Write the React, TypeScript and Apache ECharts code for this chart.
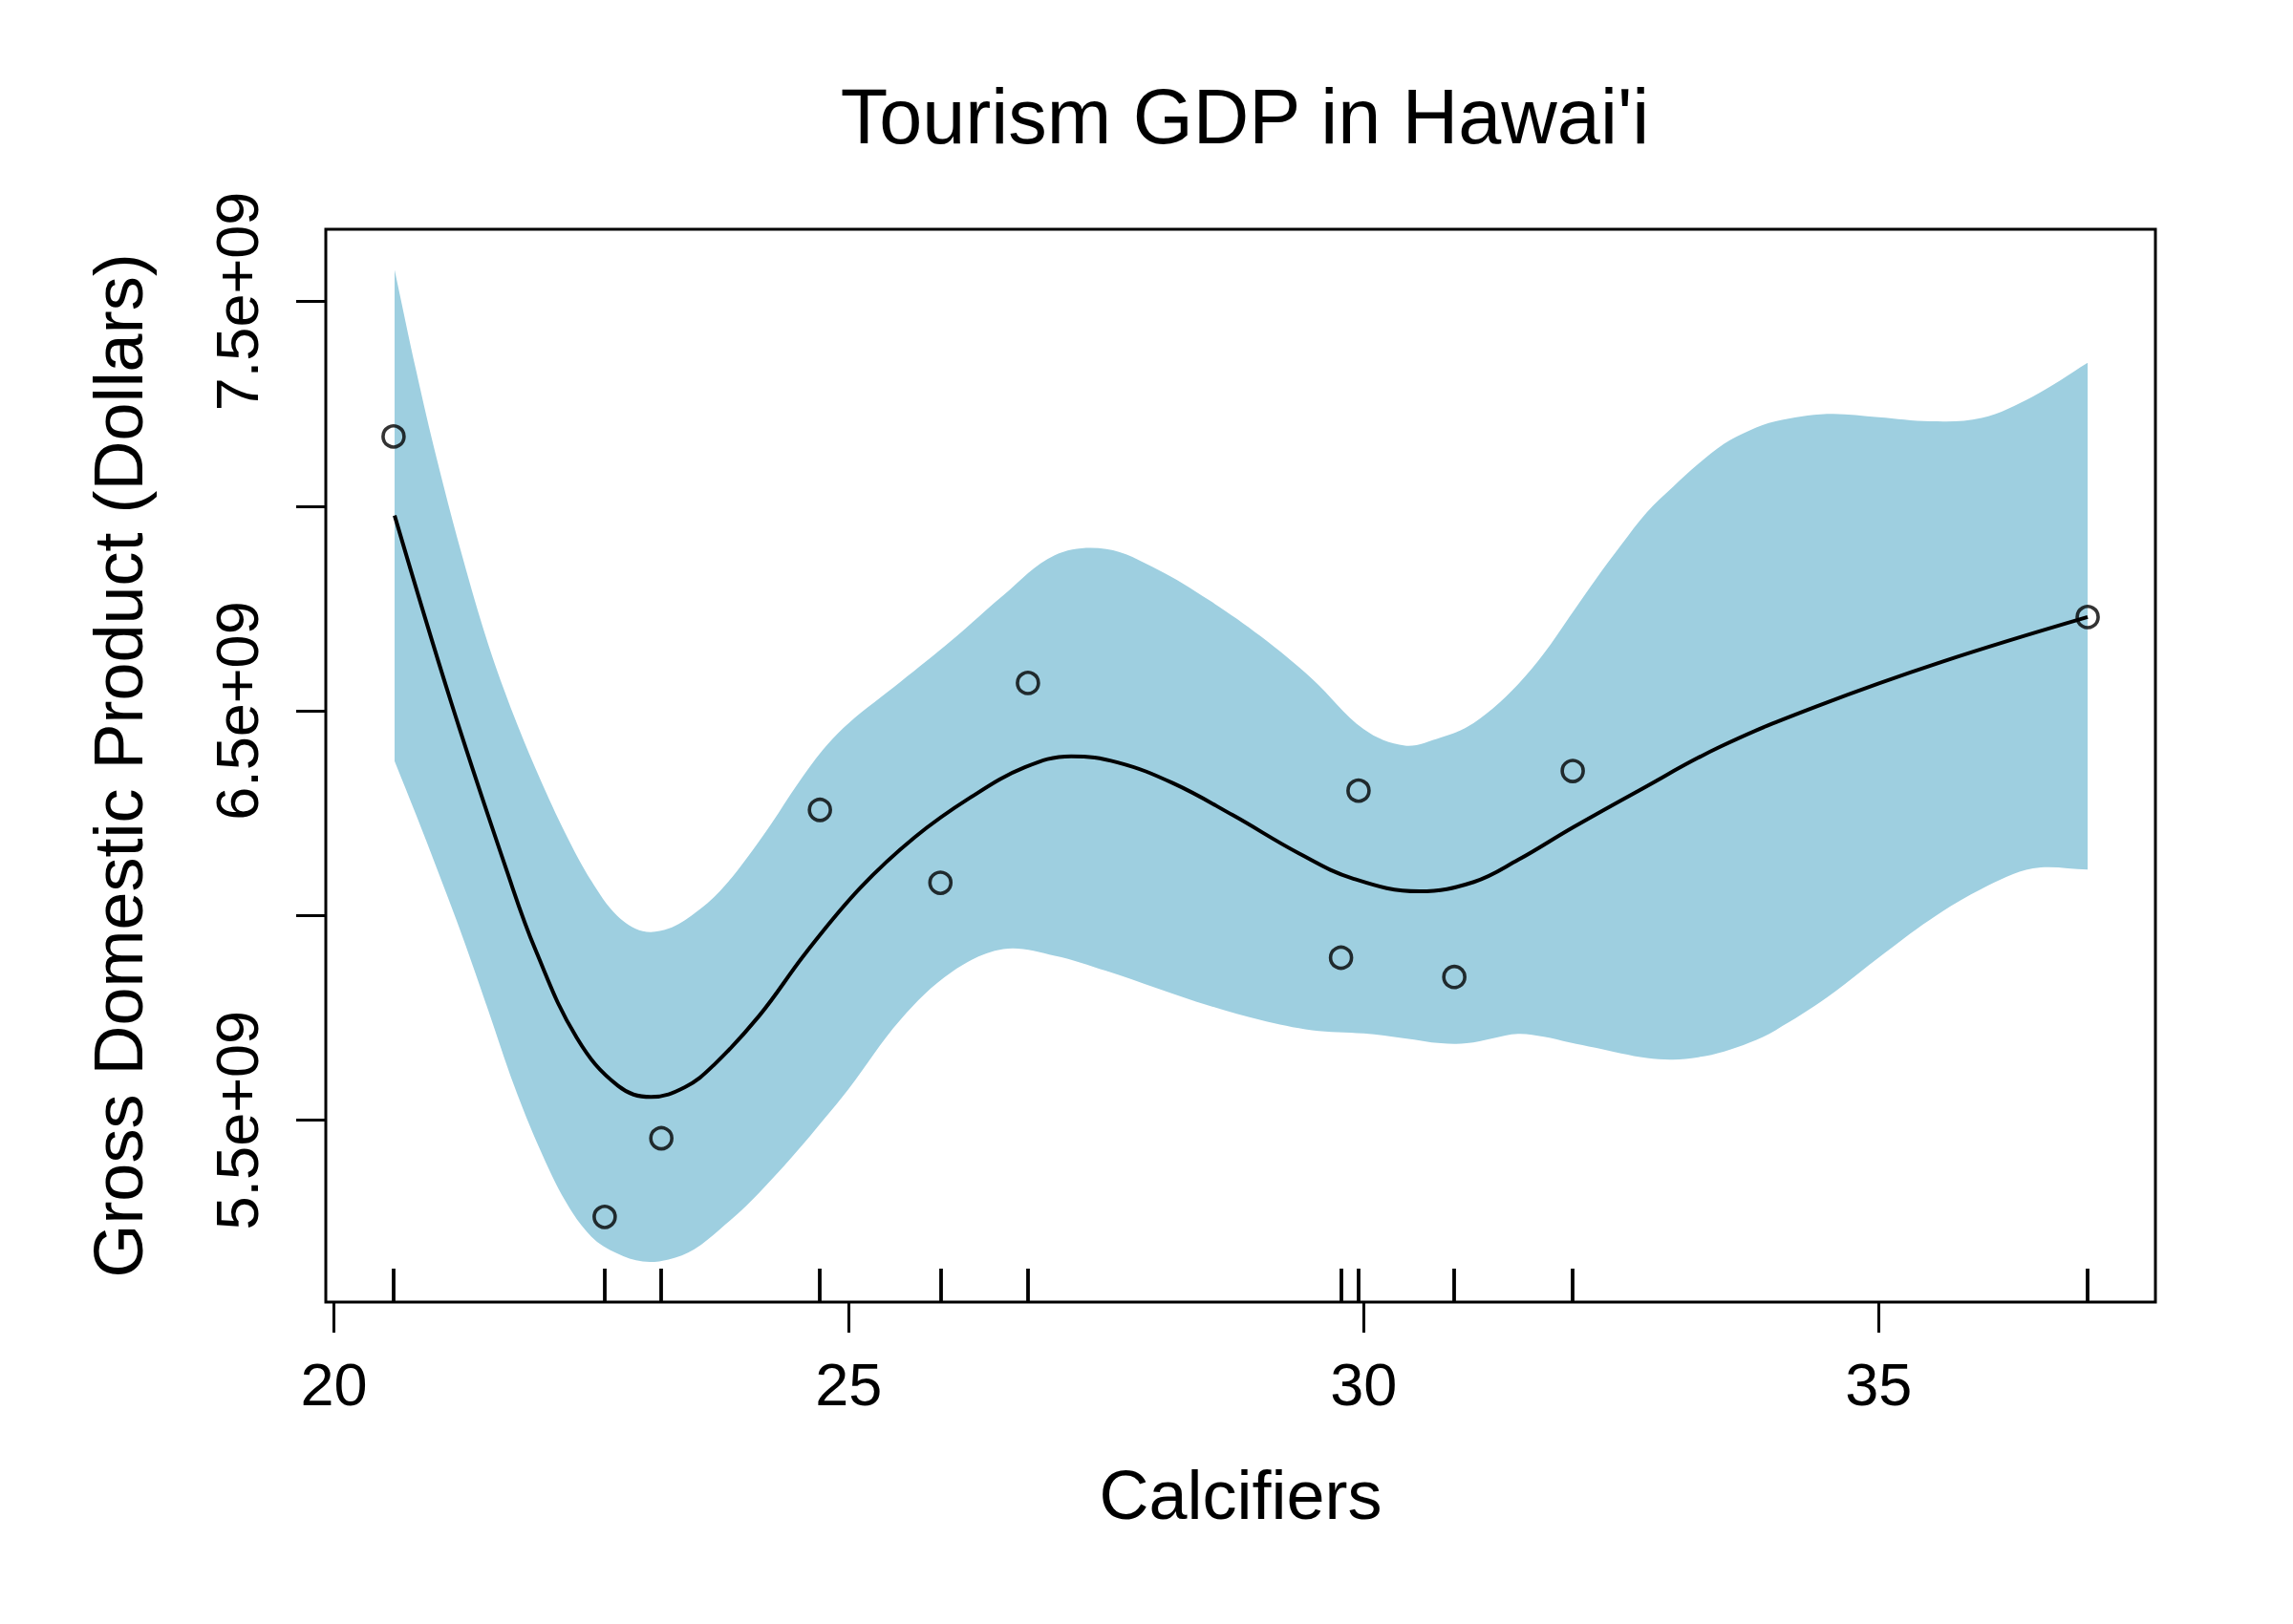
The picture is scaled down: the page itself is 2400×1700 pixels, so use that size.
import React, { useEffect, useRef } from "react";
import * as echarts from "echarts";

// Observed data points (Calcifiers vs GDP)
const pointX = [20.58, 22.63, 23.18, 24.72, 25.89, 26.74, 29.78, 29.95, 30.88, 32.03, 37.03];
const pointY = [7.17e9, 5.264e9, 5.456e9, 6.258e9, 6.08e9, 6.568e9, 5.897e9, 6.305e9, 5.85e9, 6.353e9, 6.729e9];

// Fitted smooth curve
const fitX = [20.59, 21.14, 21.68, 21.96, 22.36, 22.76, 23.08, 23.41, 23.69, 24.13, 24.59, 25.11, 25.64, 26.18, 26.71, 27.16, 27.61, 28.15, 28.73, 29.37, 29.9, 30.54, 31.07, 31.5, 32.03, 32.67, 33.46, 34.4, 35.62, 37.03];
const fitY = [6.977e9, 6.52e9, 6.109e9, 5.915e9, 5.701e9, 5.584e9, 5.557e9, 5.581e9, 5.635e9, 5.755e9, 5.911e9, 6.067e9, 6.191e9, 6.288e9, 6.362e9, 6.389e9, 6.374e9, 6.323e9, 6.245e9, 6.152e9, 6.09e9, 6.059e9, 6.082e9, 6.136e9, 6.215e9, 6.305e9, 6.412e9, 6.511e9, 6.62e9, 6.729e9];

// Confidence band
const bandX = [20.59, 20.8, 21.0, 21.25, 21.5, 21.75, 22.0, 22.25, 22.5, 22.75, 23.0, 23.25, 23.5, 23.75, 24.0, 24.25, 24.5, 24.75, 25.0, 25.5, 26.0, 26.5, 27.0, 27.5, 28.0, 28.5, 29.0, 29.5, 30.0, 30.4, 30.75, 31.0, 31.25, 31.5, 31.75, 32.0, 32.25, 32.5, 32.75, 33.0, 33.25, 33.5, 33.75, 34.0, 34.5, 35.0, 35.5, 36.0, 36.5, 37.03];
const bandUpper = [7.577e9, 7.33e9, 7.115e9, 6.875e9, 6.662e9, 6.487e9, 6.335e9, 6.2e9, 6.085e9, 6.0e9, 5.962e9, 5.968e9, 6.005e9, 6.06e9, 6.137e9, 6.225e9, 6.32e9, 6.405e9, 6.47e9, 6.57e9, 6.672e9, 6.782e9, 6.88e9, 6.895e9, 6.845e9, 6.77e9, 6.682e9, 6.578e9, 6.455e9, 6.415e9, 6.435e9, 6.46e9, 6.505e9, 6.565e9, 6.64e9, 6.73e9, 6.82e9, 6.905e9, 6.985e9, 7.046e9, 7.103e9, 7.152e9, 7.185e9, 7.207e9, 7.225e9, 7.217e9, 7.207e9, 7.215e9, 7.268e9, 7.35e9];
const bandLower = [6.377e9, 6.245e9, 6.115e9, 5.948e9, 5.768e9, 5.585e9, 5.43e9, 5.302e9, 5.216e9, 5.175e9, 5.155e9, 5.16e9, 5.185e9, 5.234e9, 5.29e9, 5.355e9, 5.425e9, 5.5e9, 5.577e9, 5.745e9, 5.862e9, 5.918e9, 5.902e9, 5.865e9, 5.822e9, 5.78e9, 5.745e9, 5.72e9, 5.712e9, 5.7e9, 5.688e9, 5.688e9, 5.7e9, 5.711e9, 5.704e9, 5.69e9, 5.677e9, 5.663e9, 5.652e9, 5.648e9, 5.654e9, 5.668e9, 5.69e9, 5.72e9, 5.8e9, 5.897e9, 5.99e9, 6.065e9, 6.115e9, 6.112e9];

// Axis ticks
const xTicks = [20, 25, 30, 35];
const yTicks = [5.5e9, 6.0e9, 6.5e9, 7.0e9, 7.5e9];
const yLabelTicks = [5.5e9, 6.5e9, 7.5e9];

const FONT = "'Liberation Sans', Arial, Helvetica, sans-serif";
const BAND_COLOR = "#9ecfe0";

export default function App() {
  const ref = useRef<HTMLDivElement>(null);

  useEffect(() => {
    document.body.style.margin = "0";
    const chart = echarts.init(ref.current!, undefined, { renderer: "svg" });

    const fitData = fitX.map((x, i) => [x, fitY[i]]);
    const pointData = pointX.map((x, i) => [x, pointY[i]]);

    chart.setOption({
      animation: false,
      backgroundColor: "#ffffff",
      title: {
        text: "Tourism GDP in Hawai'i",
        left: 1298,
        top: 76,
        textAlign: "center",
        textStyle: { fontSize: 81, fontWeight: "normal", color: "#000", fontFamily: FONT },
      },
      grid: {
        left: 341,
        right: 144,
        top: 240,
        bottom: 337,
        show: true,
        borderColor: "#000",
        borderWidth: 3,
        backgroundColor: "transparent",
        outerBoundsMode: "none",
      },
      xAxis: [
        {
          type: "value",
          min: 19.922,
          max: 37.688,
          position: "bottom",
          axisLine: { show: false },
          splitLine: { show: false },
          axisTick: {
            show: true,
            customValues: xTicks,
            length: 32,
            lineStyle: { color: "#000", width: 3 },
          },
          axisLabel: {
            customValues: xTicks,
            margin: 54,
            fontSize: 63,
            color: "#000",
            fontFamily: FONT,
          },
          name: "Calcifiers",
          nameLocation: "middle",
          nameGap: 166,
          nameTextStyle: { fontSize: 72, color: "#000", fontFamily: FONT },
        },
        {
          type: "value",
          min: 19.922,
          max: 37.688,
          position: "bottom",
          z: 10,
          axisLine: { show: false },
          splitLine: { show: false },
          axisLabel: { show: false },
          axisTick: {
            show: true,
            inside: true,
            customValues: pointX,
            length: 35,
            lineStyle: { color: "#000", width: 3.8 },
          },
        },
      ],
      yAxis: {
        type: "value",
        min: 5.056e9,
        max: 7.676e9,
        axisLine: { show: false },
        splitLine: { show: false },
        axisTick: {
          show: true,
          customValues: yTicks,
          length: 31,
          lineStyle: { color: "#000", width: 3 },
        },
        axisLabel: {
          customValues: yLabelTicks,
          rotate: 90,
          margin: 62,
          fontSize: 63,
          color: "#000",
          fontFamily: FONT,
          formatter: (v: number) => (v / 1e9).toFixed(1) + "e+09",
        },
        name: "Gross Domestic Product (Dollars)",
        nameLocation: "middle",
        nameRotate: 90,
        nameGap: 181,
        nameTextStyle: { fontSize: 72, color: "#000", fontFamily: FONT },
      },
      series: [
        {
          type: "custom",
          name: "band",
          silent: true,
          clip: true,
          z: 1,
          data: [[bandX[0], bandUpper[0]]],
          renderItem: (_params: any, api: any) => {
            const n = bandX.length;
            const pts: number[][] = [];
            // upper edge, left to right (corner points doubled to keep the end edges straight)
            for (let i = 0; i < n; i++) {
              const p = api.coord([bandX[i], bandUpper[i]]);
              pts.push(p);
              if (i === 0 || i === n - 1) pts.push([p[0], p[1]]);
            }
            // lower edge, right to left
            for (let i = n - 1; i >= 0; i--) {
              const p = api.coord([bandX[i], bandLower[i]]);
              pts.push(p);
              if (i === 0 || i === n - 1) pts.push([p[0], p[1]]);
            }
            return {
              type: "polygon",
              shape: { points: pts, smooth: 0.35 },
              style: { fill: BAND_COLOR, stroke: "none" },
            };
          },
        },
        {
          type: "line",
          name: "fit",
          data: fitData,
          smooth: 0.4,
          symbol: "none",
          lineStyle: { color: "#000", width: 4 },
          z: 3,
        },
        {
          type: "scatter",
          name: "points",
          data: pointData,
          symbol: "circle",
          symbolSize: 22,
          itemStyle: { color: "rgba(0,0,0,0)", borderColor: "#000", borderWidth: 3.6 },
          z: 4,
        },
      ],
    });

    return () => chart.dispose();
  }, []);

  return (
    <div
      ref={ref}
      style={{ position: "absolute", left: 0, top: 0, width: 2400, height: 1700, background: "#fff" }}
    />
  );
}
